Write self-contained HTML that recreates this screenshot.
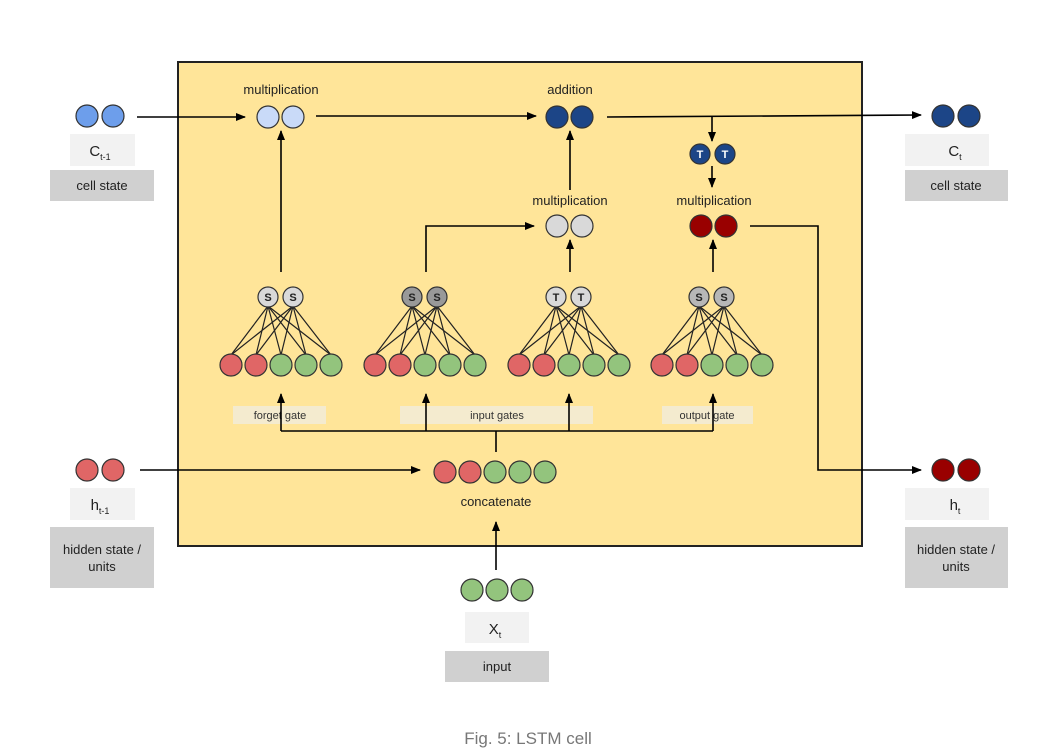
<!DOCTYPE html>
<html><head><meta charset="utf-8"><style>
html,body{margin:0;padding:0;background:#fff;}
svg{display:block;font-family:"Liberation Sans",Arial,sans-serif;}
</style></head><body>
<svg width="1043" height="752" viewBox="0 0 1043 752" xmlns="http://www.w3.org/2000/svg">
<defs>
<marker id="ah" markerWidth="10" markerHeight="8" refX="9" refY="4" orient="auto" markerUnits="userSpaceOnUse">
<path d="M0,0 L10,4 L0,8 z" fill="#000"/></marker>
<g id="net" stroke="#222" stroke-width="1.2">
<line x1="37" y1="306" x2="0" y2="355"/><line x1="37" y1="306" x2="25" y2="355"/><line x1="37" y1="306" x2="50" y2="355"/><line x1="37" y1="306" x2="75" y2="355"/><line x1="37" y1="306" x2="100" y2="355"/>
<line x1="62" y1="306" x2="0" y2="355"/><line x1="62" y1="306" x2="25" y2="355"/><line x1="62" y1="306" x2="50" y2="355"/><line x1="62" y1="306" x2="75" y2="355"/><line x1="62" y1="306" x2="100" y2="355"/>
</g>
<g id="five" stroke="#333" stroke-width="1.2">
<circle cx="0" cy="365" r="11" fill="#e06666"/><circle cx="25" cy="365" r="11" fill="#e06666"/>
<circle cx="50" cy="365" r="11" fill="#93c47d"/><circle cx="75" cy="365" r="11" fill="#93c47d"/><circle cx="100" cy="365" r="11" fill="#93c47d"/>
</g>
</defs>

<rect x="178" y="62" width="684" height="484" fill="#ffe599" stroke="#222" stroke-width="2"/>

<!-- left side -->
<g stroke="#333" stroke-width="1.2">
<circle cx="87" cy="116" r="11" fill="#6d9eeb"/><circle cx="113" cy="116" r="11" fill="#6d9eeb"/>
<circle cx="87" cy="470" r="11" fill="#e06666"/><circle cx="113" cy="470" r="11" fill="#e06666"/>
<circle cx="943" cy="116" r="11" fill="#1c4587"/><circle cx="969" cy="116" r="11" fill="#1c4587"/>
<circle cx="943" cy="470" r="11" fill="#990000"/><circle cx="969" cy="470" r="11" fill="#990000"/>
<circle cx="472" cy="590" r="11" fill="#93c47d"/><circle cx="497" cy="590" r="11" fill="#93c47d"/><circle cx="522" cy="590" r="11" fill="#93c47d"/>
</g>
<rect x="70" y="134" width="65" height="32" fill="#f2f2f2"/>
<rect x="50" y="170" width="104" height="31" fill="#d0d0d0"/>
<rect x="70" y="488" width="65" height="32" fill="#f2f2f2"/>
<rect x="50" y="527" width="104" height="61" fill="#d0d0d0"/>
<rect x="905" y="134" width="84" height="32" fill="#f2f2f2"/>
<rect x="905" y="170" width="103" height="31" fill="#d0d0d0"/>
<rect x="905" y="488" width="84" height="32" fill="#f2f2f2"/>
<rect x="905" y="527" width="103" height="61" fill="#d0d0d0"/>
<rect x="465" y="612" width="64" height="31" fill="#f2f2f2"/>
<rect x="445" y="651" width="104" height="31" fill="#d0d0d0"/>

<g font-size="13" fill="#222" text-anchor="middle">
<text x="100" y="156" font-size="15">C<tspan font-size="9" dy="4">t-1</tspan></text>
<text x="102" y="190">cell state</text>
<text x="100" y="510" font-size="15">h<tspan font-size="9" dy="4">t-1</tspan></text>
<text x="102" y="554">hidden state /</text><text x="102" y="571">units</text>
<text x="955" y="156" font-size="15">C<tspan font-size="9" dy="4">t</tspan></text>
<text x="956" y="190">cell state</text>
<text x="955" y="510" font-size="15">h<tspan font-size="9" dy="4">t</tspan></text>
<text x="956" y="554">hidden state /</text><text x="956" y="571">units</text>
<text x="495" y="634" font-size="15">X<tspan font-size="9" dy="4">t</tspan></text>
<text x="497" y="671">input</text>
<text x="281" y="94">multiplication</text>
<text x="570" y="94">addition</text>
<text x="570" y="205">multiplication</text>
<text x="714" y="205">multiplication</text>
<text x="496" y="506">concatenate</text>
</g>

<!-- label bars -->
<rect x="233" y="406" width="93" height="18" fill="#f4ebcf"/>
<rect x="400" y="406" width="193" height="18" fill="#f4ebcf"/>
<rect x="662" y="406" width="91" height="18" fill="#f4ebcf"/>
<g font-size="11" fill="#333" text-anchor="middle">
<text x="280" y="419">forget gate</text>
<text x="497" y="419">input gates</text>
<text x="707" y="419">output gate</text>
</g>

<!-- connectors -->
<g stroke="#000" stroke-width="1.6" fill="none">
<line x1="137" y1="117" x2="245" y2="117" marker-end="url(#ah)"/>
<line x1="316" y1="116" x2="536" y2="116" marker-end="url(#ah)"/>
<line x1="607" y1="117" x2="921" y2="115" marker-end="url(#ah)"/>
<line x1="712" y1="117" x2="712" y2="141" marker-end="url(#ah)"/>
<line x1="712" y1="166" x2="712" y2="187" marker-end="url(#ah)"/>
<polyline points="750,226 818,226 818,470 921,470" marker-end="url(#ah)"/>
<line x1="570" y1="190" x2="570" y2="131" marker-end="url(#ah)"/>
<polyline points="426,272 426,226 534,226" marker-end="url(#ah)"/>
<line x1="281" y1="272" x2="281" y2="131" marker-end="url(#ah)"/>
<line x1="570" y1="272" x2="570" y2="240" marker-end="url(#ah)"/>
<line x1="713" y1="272" x2="713" y2="240" marker-end="url(#ah)"/>
<polyline points="281,431 713,431"/>
<line x1="281" y1="431" x2="281" y2="394" marker-end="url(#ah)"/>
<line x1="426" y1="431" x2="426" y2="394" marker-end="url(#ah)"/>
<line x1="569" y1="431" x2="569" y2="394" marker-end="url(#ah)"/>
<line x1="713" y1="431" x2="713" y2="394" marker-end="url(#ah)"/>
<line x1="496" y1="431" x2="496" y2="452"/>
<line x1="140" y1="470" x2="420" y2="470" marker-end="url(#ah)"/>
<line x1="496" y1="570" x2="496" y2="522" marker-end="url(#ah)"/>
</g>

<!-- networks -->
<use href="#net" x="231"/><use href="#five" x="231"/>
<use href="#net" x="375"/><use href="#five" x="375"/>
<use href="#net" x="519"/><use href="#five" x="519"/>
<use href="#net" x="662"/><use href="#five" x="662"/>

<g stroke="#333" stroke-width="1.2">
<circle cx="268" cy="297" r="10" fill="#d9d9d9"/><circle cx="293" cy="297" r="10" fill="#d9d9d9"/>
<circle cx="412" cy="297" r="10" fill="#999"/><circle cx="437" cy="297" r="10" fill="#999"/>
<circle cx="556" cy="297" r="10" fill="#d9d9d9"/><circle cx="581" cy="297" r="10" fill="#d9d9d9"/>
<circle cx="699" cy="297" r="10" fill="#b7b7b7"/><circle cx="724" cy="297" r="10" fill="#b7b7b7"/>
<circle cx="268" cy="117" r="11" fill="#c9daf8"/><circle cx="293" cy="117" r="11" fill="#c9daf8"/>
<circle cx="557" cy="117" r="11" fill="#1c4587"/><circle cx="582" cy="117" r="11" fill="#1c4587"/>
<circle cx="700" cy="154" r="10" fill="#1c4587"/><circle cx="725" cy="154" r="10" fill="#1c4587"/>
<circle cx="557" cy="226" r="11" fill="#d9d9d9"/><circle cx="582" cy="226" r="11" fill="#d9d9d9"/>
<circle cx="701" cy="226" r="11" fill="#990000"/><circle cx="726" cy="226" r="11" fill="#990000"/>
<circle cx="445" cy="472" r="11" fill="#e06666"/><circle cx="470" cy="472" r="11" fill="#e06666"/>
<circle cx="495" cy="472" r="11" fill="#93c47d"/><circle cx="520" cy="472" r="11" fill="#93c47d"/><circle cx="545" cy="472" r="11" fill="#93c47d"/>
</g>
<g font-size="11" font-weight="bold" text-anchor="middle" fill="#222">
<text x="268" y="301">S</text><text x="293" y="301">S</text>
<text x="412" y="301">S</text><text x="437" y="301">S</text>
<text x="556" y="301">T</text><text x="581" y="301">T</text>
<text x="699" y="301">S</text><text x="724" y="301">S</text>
<text x="700" y="158" fill="#fff">T</text><text x="725" y="158" fill="#fff">T</text>
</g>

<text x="528" y="744" font-size="17" fill="#777" text-anchor="middle">Fig. 5: LSTM cell</text>
</svg>
</body></html>
